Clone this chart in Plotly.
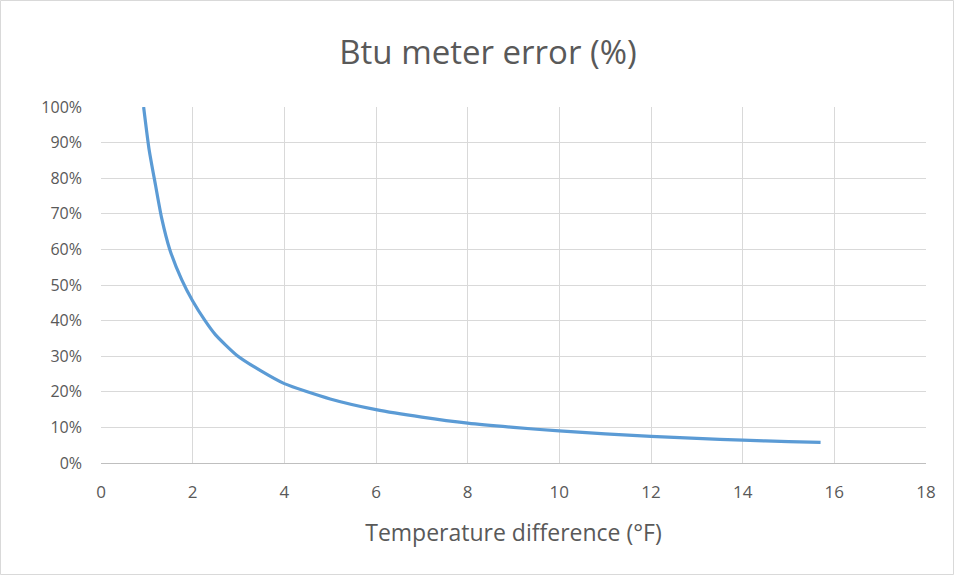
import plotly.graph_objects as go

temp_diff = [0.93, 1.05, 1.19, 1.32, 1.5, 1.76, 2.0, 2.27, 2.5, 2.96, 3.5, 4, 5, 6, 7, 8, 9, 10, 11, 12, 13, 14, 15, 15.7]
error_pct = [100, 88, 78, 69, 60, 51.5, 45.5, 40, 36, 30.3, 25.8, 22.3, 18, 15, 12.9, 11.2, 10, 9, 8.2, 7.5, 6.9, 6.4, 6.0, 5.8]

W, H = 954, 575
ml, mr, mt, mb = 101, 28, 107, 112
pw, ph = W - ml - mr, H - mt - mb

fig = go.Figure()
fig.add_trace(go.Scatter(
    x=temp_diff, y=[v / 100 for v in error_pct], mode="lines",
    line=dict(color="#5b9bd5", width=3.2, shape="spline", smoothing=0.6),
    showlegend=False, hoverinfo="skip"))

font_family = "'Open Sans', sans-serif"
fig.update_layout(
    width=W, height=H,
    margin=dict(l=ml, r=mr, t=mt, b=mb),
    paper_bgcolor="white", plot_bgcolor="white",
    title=dict(text="Btu meter error (%)", x=488 / W, xanchor="center",
               xref="container", yref="container", y=1 - 52 / H, yanchor="middle",
               font=dict(family=font_family, size=33, color="#595959")),
    font=dict(family=font_family, color="#595959"),
    xaxis=dict(range=[0, 18], dtick=2, showgrid=True, gridcolor="#d9d9d9", gridwidth=1,
               zeroline=False, showline=True, linecolor="#bfbfbf", linewidth=1,
               ticks="", ticklabelstandoff=14, tickfont=dict(size=17, color="#595959"),
               title=dict(text="Temperature difference (°F)", font=dict(size=23, color="#595959"), standoff=22)),
    yaxis=dict(range=[0, 1.0], dtick=0.1, tickformat=".0%", showgrid=True, gridcolor="#d9d9d9",
               gridwidth=1, zeroline=False, showline=False, ticks="", ticklabelstandoff=18,
               tickfont=dict(size=16, color="#595959")),
)

# chart-area border
fig.add_shape(type="rect", xref="paper", yref="paper",
              x0=(0.5 - ml) / pw, x1=(W - 0.5 - ml) / pw,
              y0=-(H - 0.5 - mt - ph) / ph, y1=1 + (mt - 0.5) / ph,
              line=dict(color="#d9d9d9", width=1))

fig.write_html("out.html")
